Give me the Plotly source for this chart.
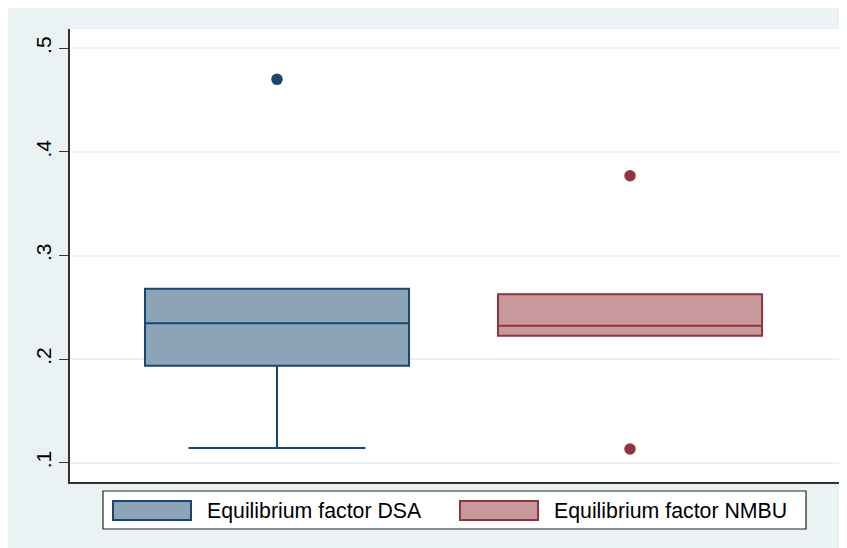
import plotly.graph_objects as go

# ---- data ----
groups = ["Equilibrium factor DSA", "Equilibrium factor NMBU"]
positions = [1, 2]
q1_vals = [0.1937, 0.2226]
median_vals = [0.2346, 0.2322]
q3_vals = [0.2680, 0.2625]
lower_fence = [0.1143, 0.2226]
upper_fence = [0.2680, 0.2625]
outliers_dsa = [0.470]
outliers_nmbu = [0.377, 0.1132]
tick_vals = [0.1, 0.2, 0.3, 0.4, 0.5]
tick_text = [".1", ".2", ".3", ".4", ".5"]

line_colors = ["#1A476F", "#90353B"]
fill_colors = ["#8DA3B8", "#C7999C"]
outlier_sets = [outliers_dsa, outliers_nmbu]

# the page body adds an 8px offset; figure coordinates below are screen - 8
OFF = 8
W, H = 847 - OFF, 548 - OFF
L, R, T, B = 70 - OFF, 839 - OFF, 29 - OFF, 482 - OFF  # plot area in figure pixels

fig = go.Figure()
for i in range(2):
    fig.add_trace(go.Box(
        x=[positions[i]], q1=[q1_vals[i]], median=[median_vals[i]], q3=[q3_vals[i]],
        lowerfence=[lower_fence[i]], upperfence=[upper_fence[i]],
        width=0.748, whiskerwidth=0.67,
        fillcolor=fill_colors[i], line=dict(color=line_colors[i], width=2),
        name=groups[i], showlegend=False, hoverinfo="skip",
    ))
    fig.add_trace(go.Scatter(
        x=[positions[i]] * len(outlier_sets[i]), y=outlier_sets[i], mode="markers",
        marker=dict(color=line_colors[i], size=11.5, line=dict(width=0)),
        showlegend=False, hoverinfo="skip",
    ))

def px(x):  # screen x -> paper
    return (x - OFF - L) / (R - L)

def py(y):  # screen y -> paper
    return (B - (y - OFF)) / (B - T)

shapes = [
    dict(type="rect", xref="paper", yref="paper", x0=px(103), x1=px(806), y0=py(529), y1=py(491),
         fillcolor="white", line=dict(color="#222222", width=1.2)),
]
annotations = []
sw_x = [113, 460]
txt_x = [205, 552]
for i in range(2):
    shapes.append(dict(type="rect", xref="paper", yref="paper",
                       x0=px(sw_x[i]), x1=px(sw_x[i] + 78), y0=py(520), y1=py(501),
                       fillcolor=fill_colors[i], line=dict(color=line_colors[i], width=2)))
    annotations.append(dict(text=groups[i], xref="paper", yref="paper",
                            x=px(txt_x[i]), y=py(511), xanchor="left", yanchor="middle",
                            showarrow=False, font=dict(size=21.3, color="black")))

fig.update_layout(
    width=W, height=H,
    margin=dict(l=L, r=W - R, t=T, b=H - B),
    paper_bgcolor="#EAF2F3", plot_bgcolor="white",
    font=dict(family="Liberation Sans, Arial, sans-serif", color="black"),
    shapes=shapes, annotations=annotations, showlegend=False,
    xaxis=dict(range=[0.4136, 2.592], showticklabels=False, ticks="", showgrid=False,
               zeroline=False, showline=True, linecolor="#333333", linewidth=1.5),
    yaxis=dict(range=[0.0814, 0.5186], tickvals=tick_vals, ticktext=tick_text,
               tickangle=-90, ticks="outside", ticklen=9, tickcolor="#333333", tickwidth=1,
               tickfont=dict(size=21), showgrid=True, gridcolor="#EAF2F3", gridwidth=1.5,
               zeroline=False, showline=True, linecolor="#333333", linewidth=1.5),
)

fig.write_html("out.html")
